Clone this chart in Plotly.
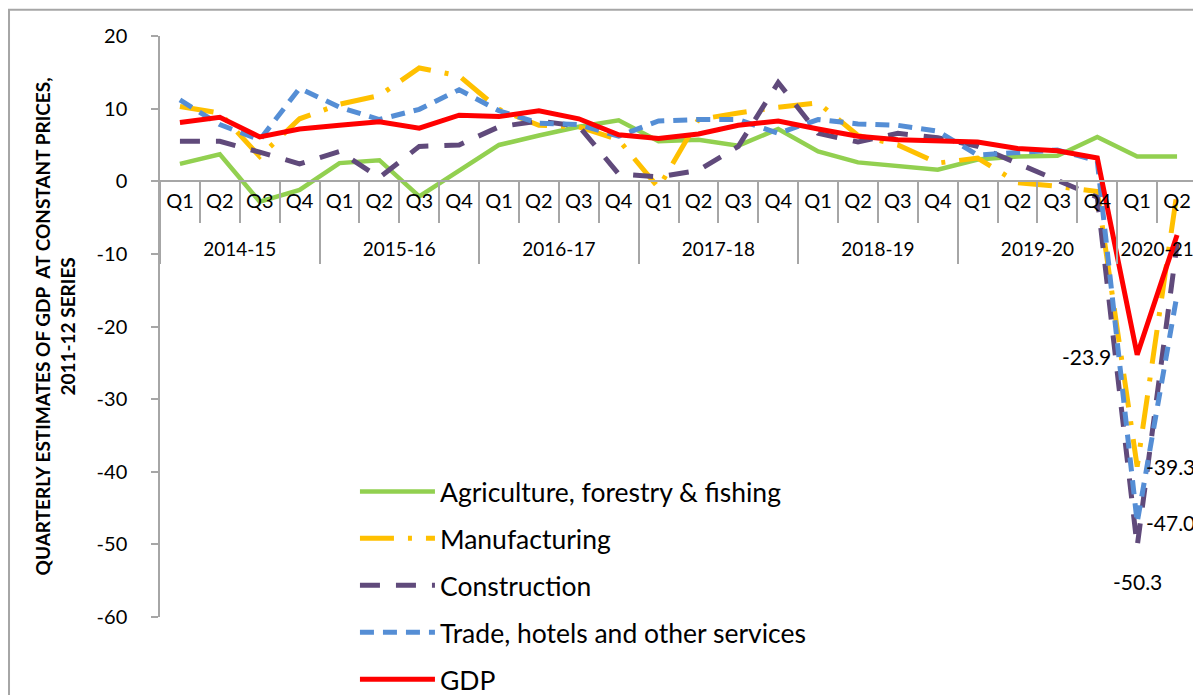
import plotly.graph_objects as go

# --------------------------------------------------
# Data (growth %, quarterly, 2011-12 series)
# --------------------------------------------------

years = ["2014-15"] * 4 + ["2015-16"] * 4 + ["2016-17"] * 4 + ["2017-18"] * 4 \
    + ["2018-19"] * 4 + ["2019-20"] * 4 + ["2020-21"] * 2
quarters = ["Q1", "Q2", "Q3", "Q4"] * 6 + ["Q1", "Q2"]

agriculture = [2.4, 3.7, -2.8, -1.2, 2.5, 2.9, -2.1, 1.4, 5.0, 6.3, 7.5, 8.4,
               5.5, 5.7, 4.9, 7.2, 4.1, 2.6, 2.1, 1.6, 3.0, 3.4, 3.5, 6.1, 3.4, 3.4]
manufacturing = [10.3, 9.4, 3.4, 8.6, 10.6, 11.8, 15.6, 14.5, 9.9, 7.7, 7.5, 5.7,
                 -0.9, 8.5, 9.4, 10.2, 10.8, 6.3, 5.0, 2.5, 3.2, -0.2, -0.7, -1.4, -39.3, -1.5]
construction = [5.5, 5.5, 4.0, 2.4, 4.1, 0.5, 4.8, 5.0, 7.5, 8.3, 7.6, 1.0,
                0.6, 1.5, 4.8, 13.6, 6.6, 5.4, 6.6, 6.0, 4.8, 2.5, 0.1, -2.2, -50.3, -8.6]
trade = [11.2, 7.8, 5.7, 12.8, 10.2, 8.5, 9.9, 12.6, 9.7, 8.0, 7.8, 6.2,
         8.3, 8.5, 8.5, 6.6, 8.5, 7.9, 7.7, 6.9, 3.6, 4.0, 4.3, 2.8, -47.0, -15.6]
gdp = [8.1, 8.8, 6.1, 7.2, 7.7, 8.2, 7.3, 9.1, 8.9, 9.7, 8.6, 6.4,
       5.9, 6.5, 7.7, 8.3, 7.2, 6.2, 5.7, 5.6, 5.4, 4.5, 4.2, 3.2, -23.9, -7.4]

y_ticks = [20, 10, 0, -10, -20, -30, -40, -50, -60]

FONT = "Lato, 'Open Sans', sans-serif"
GREY = "#A6A6A6"
LABEL_AT = 24  # 2020-21 Q1 carries the data labels
Y_MIN, Y_MAX = min(y_ticks), max(y_ticks)

series = [
    # name, values, colour, dash, width
    ("Agriculture, forestry & fishing", agriculture, "#92D050", "solid", 4.5),
    ("Manufacturing", manufacturing, "#FFC000", "34px,14px,4px,14px", 5),
    ("Construction", construction, "#604A7B", "20px,16px", 5),
    ("Trade, hotels and other services", trade, "#558ED5", "14px,9px", 5),
    ("GDP", gdp, "#FF0000", "solid", 5),
]

fig = go.Figure()

for name, values, color, dash, width in series:
    fig.add_trace(go.Scatter(
        x=[years, quarters],
        y=values,
        name=name,
        legendgroup=name,
        mode="lines",
        line=dict(color=color, width=width, dash=dash),
    ))

# --------------------------------------------------
# x axis drawn Excel-style at y = 0 with overlay axes
# --------------------------------------------------

n = len(quarters)
rng = [-0.5, n - 0.5]
year_names = list(dict.fromkeys(years))
year_first = [years.index(y) for y in year_names]
year_last = [len(years) - 1 - years[::-1].index(y) for y in year_names]
year_mid = [(a + b) / 2 for a, b in zip(year_first, year_last)]
year_bounds = [a - 0.5 for a in year_first] + [year_last[-1] + 0.5]
zero_pos = (0 - Y_MIN) / (Y_MAX - Y_MIN)

# empty traces so the overlay axes get drawn
for ax in ["x2", "x3", "x4", "x5"]:
    fig.add_trace(go.Scatter(x=[None], y=[None], xaxis=ax, yaxis="y",
                             showlegend=False, hoverinfo="skip", mode="lines"))

overlay = dict(overlaying="x", anchor="free", position=zero_pos, range=rng,
               showgrid=False, zeroline=False, automargin=False)

layout_axes = dict(
    xaxis=dict(type="multicategory", range=rng, visible=False, automargin=False),
    xaxis2=dict(overlay, tickmode="array", tickvals=list(range(n)), ticktext=quarters,
                ticks="", showline=True, linecolor=GREY, linewidth=1.5,
                tickfont=dict(size=20), ticklabelstandoff=2),
    xaxis3=dict(overlay, tickmode="array", tickvals=[i - 0.5 for i in range(n + 1)],
                ticks="outside", ticklen=41, tickwidth=1.5, tickcolor=GREY,
                showticklabels=False),
    xaxis4=dict(overlay, tickmode="array", tickvals=year_bounds,
                ticks="outside", ticklen=82, tickwidth=1.5, tickcolor=GREY,
                showticklabels=False),
    xaxis5=dict(overlay, tickmode="array", tickvals=year_mid, ticktext=year_names,
                ticks="", tickfont=dict(size=19), ticklabelstandoff=55),
)

# page body has an 8px margin, the figure runs on below the visible window
fig.update_layout(
    width=1193,
    height=770,
    margin=dict(l=152, r=4, t=28, b=161),
    paper_bgcolor="white",
    plot_bgcolor="white",
    font=dict(family=FONT, size=20, color="black"),
    showlegend=True,
    legend=dict(
        x=0.188, y=0.257, xanchor="left", yanchor="top",
        font=dict(size=26.5, family=FONT),
        itemwidth=75,
        tracegroupgap=9.5,
        bgcolor="rgba(0,0,0,0)",
    ),
    yaxis=dict(
        range=[Y_MIN, Y_MAX],
        tickmode="array",
        tickvals=y_ticks,
        ticktext=[str(v) for v in y_ticks],
        showline=True,
        linecolor=GREY,
        linewidth=1.5,
        ticks="outside",
        ticklen=7,
        tickwidth=1.5,
        tickcolor=GREY,
        showgrid=False,
        zeroline=False,
        automargin=False,
        ticklabelstandoff=20,
        tickfont=dict(size=20),
    ),
    **layout_axes,
)

# y axis title
fig.add_annotation(
    xref="paper", yref="paper", x=-0.1013, y=0.5,
    xanchor="center", yanchor="middle", textangle=-90, showarrow=False,
    text="<b>QUARTERLY ESTIMATES OF GDP  AT CONSTANT PRICES,<br>2011-12 SERIES</b>",
    font=dict(size=19, family=FONT),
)

# data labels for the 2020-21 Q1 trough
label_style = {
    "GDP": dict(xanchor="right", xshift=-24, yshift=-2),
    "Manufacturing": dict(xanchor="left", xshift=7, yshift=0),
    "Trade, hotels and other services": dict(xanchor="left", xshift=7, yshift=0),
    "Construction": dict(xanchor="center", xshift=0, yshift=-35),
}
for name, values, *_ in series:
    if name not in label_style:
        continue
    fig.add_annotation(
        xref="x2", yref="y", x=LABEL_AT, y=values[LABEL_AT],
        text=f"{values[LABEL_AT]:.1f}", showarrow=False, yanchor="middle",
        font=dict(size=21, family=FONT, color="black"),
        **label_style[name],
    )

# outer chart border
fig.add_shape(type="rect", xref="paper", yref="paper",
              x0=-0.1456, x1=1.2, y0=-0.6, y1=1.045,
              line=dict(color=GREY, width=2), layer="below")

fig.write_html("out.html")
